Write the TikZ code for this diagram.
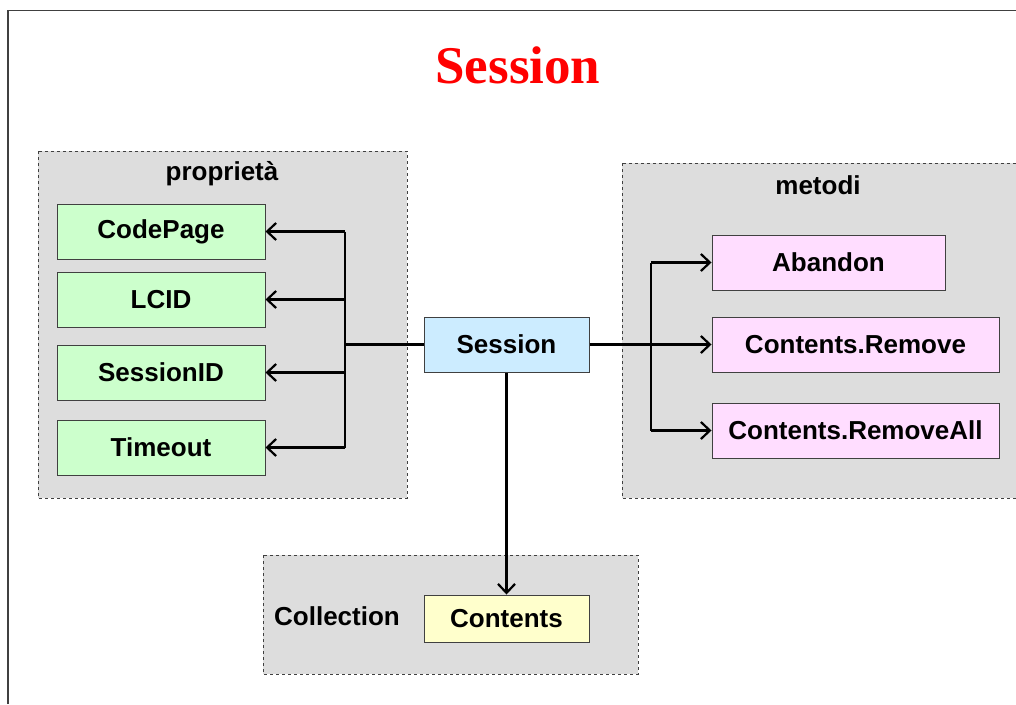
\documentclass[tikz,border=0pt]{standalone}
\usepackage{fontspec}
\setmainfont{Liberation Sans}
\newfontfamily\titlefont{Liberation Serif}
\usetikzlibrary{arrows.meta}
\definecolor{grpfill}{HTML}{DDDDDD}
\definecolor{propfill}{HTML}{CCFFCC}
\definecolor{sessfill}{HTML}{CCECFF}
\definecolor{methfill}{HTML}{FFDDFF}
\definecolor{collfill}{HTML}{FFFFCC}
\definecolor{edgegray}{HTML}{404040}
\tikzset{
  group/.style={draw=edgegray, dashed, fill=grpfill, line width=1pt},
  item/.style={draw=edgegray, line width=1pt, inner sep=0pt, font=\fontsize{26}{30}\selectfont\bfseries},
  grouplabel/.style={font=\fontsize{26}{30}\selectfont\bfseries, inner sep=0pt},
  link/.style={draw=black, line width=2.2pt},
  thicklink/.style={draw=black, line width=3pt},
  linkarrow/.style={draw=black, line width=2.2pt, -{Straight Barb[length=9pt,width=17pt,line width=2.2pt]}},
}
\begin{document}
\begin{tikzpicture}[x=1pt,y=-1pt]
\useasboundingbox (0,0) rectangle (1016,704);
% page frame
\draw[edgegray, line width=1.6pt] (8,704) -- (8,10.5) -- (1016,10.5);
% title
\node[text=red, font=\titlefont\fontsize{53}{60}\selectfont\bfseries, inner sep=0pt] (title) at (518,65) {Session};

% groups
\draw[group] (38,151) rectangle (407,498);
\node[grouplabel] (proplbl) at (222,174) {proprietà};
\draw[group] (622,163) rectangle (1018,498);
\node[grouplabel] (methlbl) at (818,185) {metodi};
\draw[group] (263,555) rectangle (638,674);
\node[grouplabel] (colllbl) at (337,616) {Collection};

% property boxes
\node[item, fill=propfill, minimum width=208pt, minimum height=55pt] (codepage) at (161,231.5) {CodePage};
\node[item, fill=propfill, minimum width=208pt, minimum height=55pt] (lcid) at (161,299.5) {LCID};
\node[item, fill=propfill, minimum width=208pt, minimum height=55pt] (sessionid) at (161,372.5) {SessionID};
\node[item, fill=propfill, minimum width=208pt, minimum height=55pt] (timeout) at (161,447.5) {Timeout};

% central object
\node[item, fill=sessfill, minimum width=165pt, minimum height=55pt] (session) at (506.5,344.5) {Session};

% method boxes
\node[item, fill=methfill, minimum width=233pt, minimum height=55pt] (abandon) at (828.5,262.5) {Abandon};
\node[item, fill=methfill, minimum width=287pt, minimum height=55pt] (remove) at (855.5,344.5) {Contents.Remove};
\node[item, fill=methfill, minimum width=287pt, minimum height=55pt] (removeall) at (855.5,430.5) {Contents.RemoveAll};

% collection box
\node[item, fill=collfill, minimum width=165pt, minimum height=47pt] (contents) at (506.5,618.5) {Contents};

% junction points
\coordinate (lj) at (345,344.5);
\coordinate (rj) at (651,344.5);

% connectors to properties
\draw[thicklink] (session.west) -- (lj);
\draw[link] (345,231.5) -- (345,447.5);
\draw[linkarrow] (345,231.5) -- (codepage.east);
\draw[linkarrow] (345,299.5) -- (lcid.east);
\draw[linkarrow] (345,372.5) -- (sessionid.east);
\draw[linkarrow] (345,447.5) -- (timeout.east);

% connectors to methods
\draw[thicklink] (session.east) -- (rj);
\draw[link] (651,262.5) -- (651,430.5);
\draw[linkarrow] (651,262.5) -- (abandon.west);
\draw[linkarrow] (rj) -- (remove.west);
\draw[linkarrow] (651,430.5) -- (removeall.west);

% connector to collection
\draw[linkarrow] (session.south) -- (contents.north);
\end{tikzpicture}
\end{document}
